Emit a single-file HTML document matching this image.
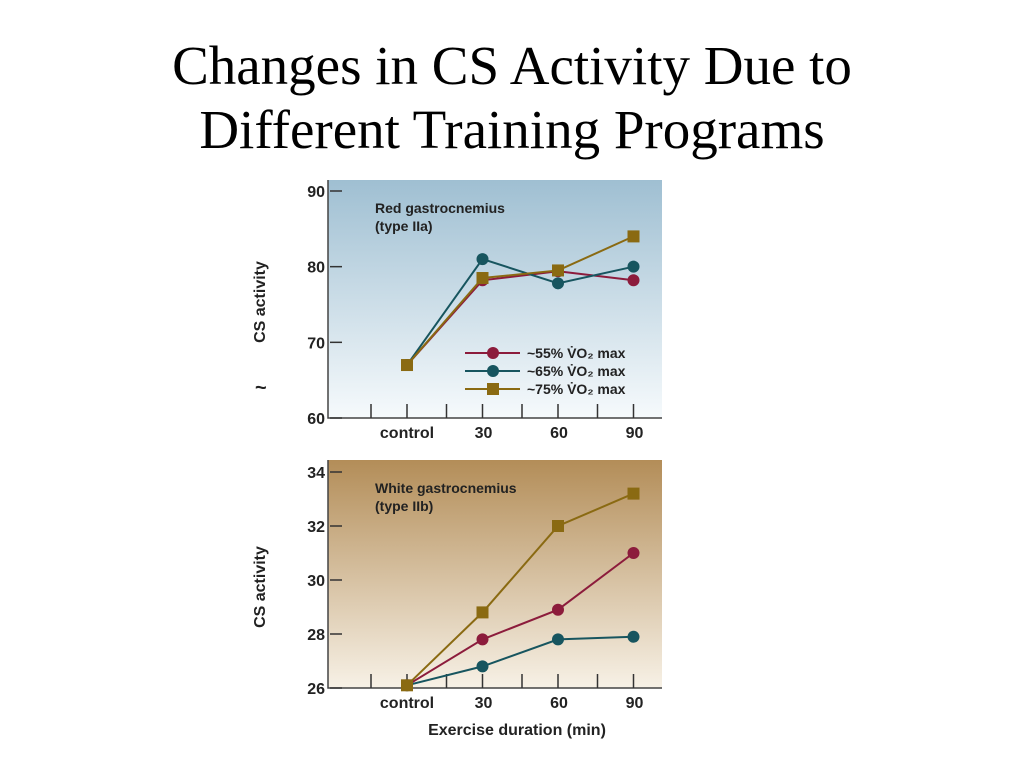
<!DOCTYPE html>
<html><head><meta charset="utf-8"><style>
body{margin:0;width:1024px;height:768px;background:#fff;overflow:hidden}
h1{position:absolute;left:0;top:34px;width:1024px;margin:0;text-align:center;font:55px/64px "Liberation Serif",serif;font-weight:normal;color:#000}
svg{position:absolute;left:0;top:0}
text{font-family:"Liberation Sans",sans-serif;font-weight:bold;fill:#222}
</style></head><body>
<h1>Changes in CS Activity Due to<br>Different Training Programs</h1>
<svg width="1024" height="768" id="c">
<defs>
<linearGradient id="gb" x1="0" y1="0" x2="0" y2="1"><stop offset="0" stop-color="#9fbfd2"/><stop offset="1" stop-color="#f6fafc"/></linearGradient>
<linearGradient id="gt" x1="0" y1="0" x2="0" y2="1"><stop offset="0" stop-color="#b38d58"/><stop offset="1" stop-color="#f7f1e6"/></linearGradient>
</defs>
</svg>
<script>
const categories=["control","30","60","90"];
const topS55=[67,78.2,79.4,78.2];
const topS65=[67,81,77.8,80];
const topS75=[67,78.5,79.5,84];
const botS55=[26.1,27.8,28.9,31];
const botS65=[26.1,26.8,27.8,27.9];
const botS75=[26.1,28.8,32,33.2];
const topTicks=[60,70,80,90];
const botTicks=[26,28,30,32,34];
const colors=["#8c1c3c","#17555f","#8a6a12"];
const svg=document.getElementById('c');
const NS='http://www.w3.org/2000/svg';
function mk(t,a){const e=document.createElementNS(NS,t);for(const k in a)e.setAttribute(k,a[k]);svg.appendChild(e);return e;}
const xs=i=>407+i*75.5;
function chart(p){
 const y=v=>p.y0-(v-p.min)/(p.max-p.min)*(p.y0-p.y1);
 const bg=mk('rect',{x:328,y:p.top,width:334,height:p.y0-p.top,fill:p.grad});
 
 
 const ax=mk('path',{d:`M328 ${p.top} V${p.y0} H662`,stroke:'#444','stroke-width':1.5,fill:'none'});
 
 
 p.ticks.forEach(t=>{
  mk('line',{x1:330,x2:342,y1:y(t),y2:y(t),stroke:'#333','stroke-width':1.5});
  const tx=mk('text',{x:325,y:y(t)+6,'text-anchor':'end','font-size':16});
  tx.textContent=t;
  
  
 });
 for(let i=0;i<4;i++){
  mk('line',{x1:xs(i),x2:xs(i),y1:p.y0,y2:p.y0-14,stroke:'#333','stroke-width':1.5});
  mk('line',{x1:xs(i)-36,x2:xs(i)-36,y1:p.y0,y2:p.y0-14,stroke:'#333','stroke-width':1.5});
  const tx=mk('text',{x:xs(i)+(i==0?0:1),y:p.y0+20,'text-anchor':'middle','font-size':16});
  tx.textContent=categories[i];
  
  
 }
 const yl=mk('text',{x:0,y:0,'text-anchor':'middle','font-size':16,transform:`translate(265 ${p.ylabY}) rotate(-90)`});
 yl.textContent='CS activity';
 
 
 p.label.forEach((l,k)=>{const t=mk('text',{x:375,y:p.top+33+k*18,'font-size':14,'font-weight':'normal'});t.textContent=l;
  
  });
 p.series.forEach((s,si)=>{
  const pl=mk('polyline',{points:s.map((v,i)=>xs(i)+','+y(v)).join(' '),fill:'none',stroke:colors[si],'stroke-width':2});
  
  
  s.forEach((v,i)=>{
   let m;
   if(si==2)m=mk('rect',{x:xs(i)-6,y:y(v)-6,width:12,height:12,fill:colors[si]});
   else m=mk('circle',{cx:xs(i),cy:y(v),r:6,fill:colors[si]});
   
   
  });
 });
}
chart({id:'top',top:180,y0:418,y1:191,min:60,max:90,ticks:topTicks,grad:'url(#gb)',ylabY:302,label:['Red gastrocnemius','(type IIa)'],series:[topS55,topS65,topS75]});
chart({id:'bottom',top:460,y0:688,y1:472,min:26,max:34,ticks:botTicks,grad:'url(#gt)',ylabY:587,label:['White gastrocnemius','(type IIb)'],series:[botS55,botS65,botS75]});
const tl=mk('text',{x:255,y:394,'font-size':20,'font-weight':'normal'});tl.textContent='~';


const labs=['~55% V̇O₂ max','~65% V̇O₂ max','~75% V̇O₂ max'];
labs.forEach((l,i)=>{
 const yy=353+i*18;
 mk('line',{x1:465,x2:520,y1:yy,y2:yy,stroke:colors[i],'stroke-width':2});
 let m;
 if(i==2)m=mk('rect',{x:487,y:yy-6,width:12,height:12,fill:colors[i]});else m=mk('circle',{cx:493,cy:yy,r:6,fill:colors[i]});
 
 
 const t=mk('text',{x:527,y:yy+5,'font-size':14,'font-weight':'normal'});t.textContent=l;
 
 
});
const xt=mk('text',{x:517,y:735,'text-anchor':'middle','font-size':16});xt.textContent='Exercise duration (min)';


</script>
</body></html>
